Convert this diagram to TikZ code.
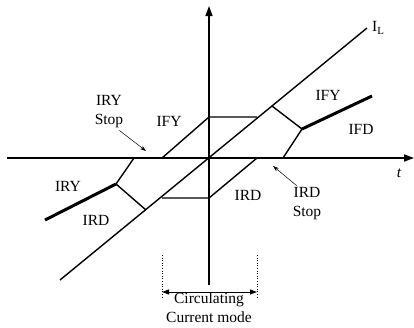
\documentclass[tikz,border=0pt]{standalone}
\usepackage{fontspec}
\setmainfont{Liberation Serif}
\usetikzlibrary{arrows.meta}

\tikzset{
  axisline/.style={line width=1.5pt, -{Triangle[length=10pt,width=7pt]}},
  modeline/.style={line width=1.4pt},
  heavyline/.style={line width=3pt},
  pointer/.style={line width=0.5pt, -{Stealth[length=6pt,width=4pt]}},
  lbl/.style={inner sep=0pt, align=center, font=\fontsize{15.5}{19}\selectfont}
}

\begin{document}
\begin{tikzpicture}[x=1pt,y=-1pt]
\useasboundingbox (0,0) rectangle (414,327);

% Axes
\coordinate (xleft) at (7,158);
\coordinate (xright) at (414,158);
\coordinate (ybottom) at (209,285);
\coordinate (ytop) at (209,6);
\draw[axisline] (xleft) -- (xright);
\draw[axisline] (ybottom) -- (ytop);

% Load current
\coordinate (il0) at (60,280);
\coordinate (il1) at (367,28);
\draw[modeline] (il0) -- (il1);

% Circulating current zone
\coordinate (ua) at (162,158);
\coordinate (ub) at (209,117);
\coordinate (uc) at (257,117);
\coordinate (la) at (162,198);
\coordinate (lb) at (209,198);
\coordinate (lc) at (257,158);
\draw[modeline] (ua) -- (ub) -- (uc);
\draw[modeline] (la) -- (lb) -- (lc);

% Left side (rectifier)
\coordinate (rs) at (134,158);
\coordinate (rk) at (116,184);
\coordinate (rend) at (45,220);
\coordinate (rl) at (146,210);
\draw[modeline] (rs) -- (rk) -- (rl);
\draw[heavyline] (rk) -- (rend);

% Right side (inverter)
\coordinate (fl) at (272,106);
\coordinate (fk) at (302,129);
\coordinate (fend) at (372,96);
\coordinate (fs) at (283,158);
\draw[modeline] (fl) -- (fk) -- (fs);
\draw[heavyline] (fk) -- (fend);

% Labels
\node[lbl, anchor=west] (il) at (372,28) {I\textsubscript{L}};
\node[lbl] (t) at (399,173) {\itshape t};
\node[lbl] (irystop) at (109,112) {IRY\\Stop};
\node[lbl] (ifyl) at (169,121) {IFY};
\node[lbl] (ifyr) at (328,95) {IFY};
\node[lbl] (ifd) at (361,129) {IFD};
\node[lbl] (iry) at (68,186) {IRY};
\node[lbl] (irdl) at (96,220) {IRD};
\node[lbl] (irdm) at (248,195) {IRD};
\node[lbl] (irdstop) at (307,204) {IRD\\Stop};

% Stop pointers
\coordinate (irytip) at (146,151);
\coordinate (irdtip) at (273,166);
\draw[pointer] (irystop.south east) ++(-4,2) -- (irytip);
\draw[pointer] (irdstop.north west) ++(4,-2) -- (irdtip);

% Circulating mode span
\coordinate (sl) at (162,255);
\coordinate (sr) at (257,255);
\draw[dotted, line width=0.6pt] (sl) -- ++(0,42);
\draw[dotted, line width=0.6pt] (sr) -- ++(0,42);
\draw[line width=1pt, {Triangle[length=7pt,width=5pt]}-{Triangle[length=7pt,width=5pt]}] (162,292) -- (257,292);
\node[lbl] (circ) at (209,308) {Circulating\\Current mode};

\end{tikzpicture}
\end{document}
